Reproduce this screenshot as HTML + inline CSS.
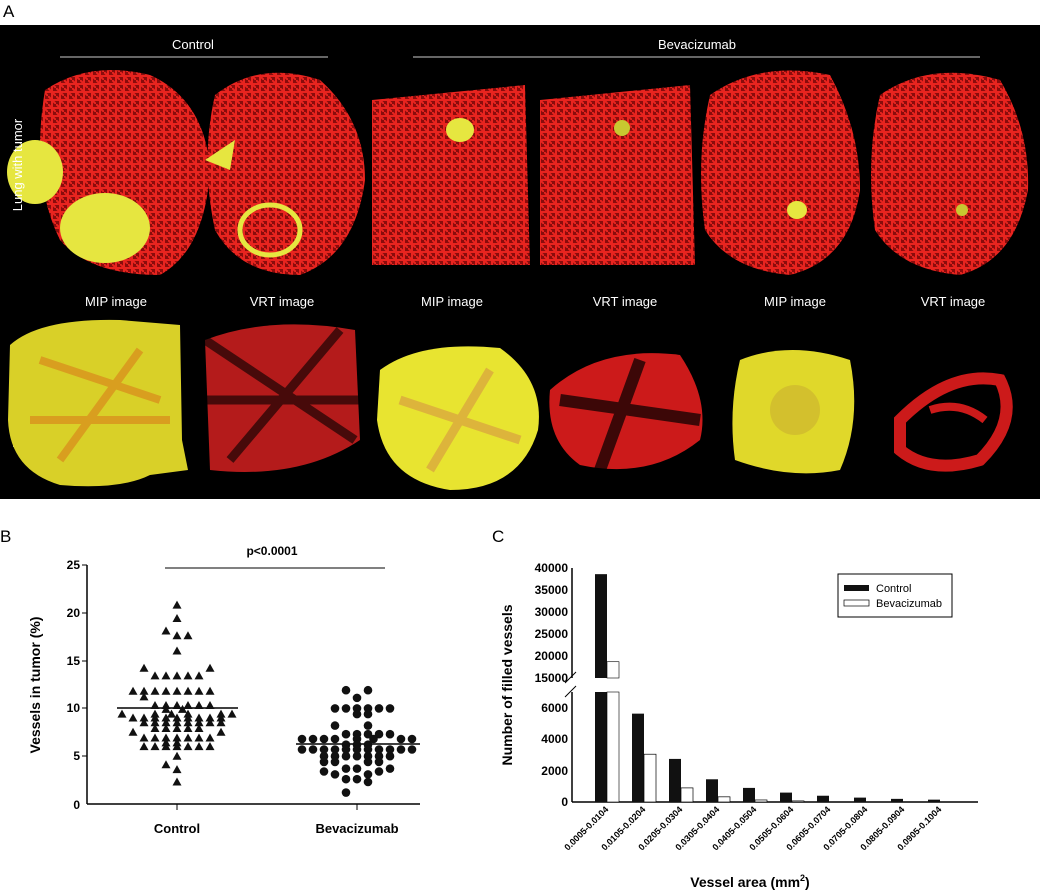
<!DOCTYPE html>
<html><head><style>body{margin:0;background:#fff}svg{display:block}</style></head><body>
<svg width="1040" height="892" viewBox="0 0 1040 892" font-family="Liberation Sans, Arial, sans-serif">
<defs>
<pattern id="ves" width="8" height="8" patternUnits="userSpaceOnUse">
<rect width="8" height="8" fill="#8a0c0c"/>
<path d="M0 4h8M4 0v8M0 0l8 8" stroke="#e8241f" stroke-width="2"/>
</pattern>
</defs>
<text x="3" y="17" font-size="17">A</text>
<rect x="0" y="25" width="1040" height="474" fill="#000"/>
<text x="193" y="49" font-size="13" fill="#fff" text-anchor="middle">Control</text>
<line x1="60" y1="57" x2="328" y2="57" stroke="#ccc"/>
<text x="697" y="49" font-size="13" fill="#fff" text-anchor="middle">Bevacizumab</text>
<line x1="413" y1="57" x2="980" y2="57" stroke="#ccc"/>
<!-- lungs -->
<path d="M45 90 Q90 60 150 75 Q205 100 210 170 Q205 250 160 275 Q90 275 60 240 Q30 180 45 90Z" fill="url(#ves)"/>
<ellipse cx="35" cy="172" rx="28" ry="32" fill="#e6e640"/>
<ellipse cx="105" cy="228" rx="45" ry="35" fill="#e6e640"/>
<path d="M215 95 Q260 60 320 80 Q365 120 365 180 Q355 255 300 275 Q240 275 215 230 Q200 160 215 95Z" fill="url(#ves)"/>
<ellipse cx="270" cy="230" rx="30" ry="25" fill="none" stroke="#e6e640" stroke-width="5"/>
<path d="M205 160 l30 -20 l-5 30 Z" fill="#e6e640"/>
<path d="M372 100 L525 85 L530 265 L372 265Z" fill="url(#ves)"/>
<ellipse cx="460" cy="130" rx="14" ry="12" fill="#e6e640"/>
<path d="M540 100 L690 85 L695 265 L540 265Z" fill="url(#ves)"/>
<ellipse cx="622" cy="128" rx="8" ry="8" fill="#c8c830"/>
<path d="M710 95 Q760 60 830 75 Q860 130 860 190 Q850 260 790 275 Q730 270 705 230 Q695 160 710 95Z" fill="url(#ves)"/>
<ellipse cx="797" cy="210" rx="10" ry="9" fill="#e6e640"/>
<path d="M880 95 Q930 60 1000 80 Q1030 130 1028 190 Q1015 260 960 275 Q900 270 875 230 Q865 160 880 95Z" fill="url(#ves)"/>
<ellipse cx="962" cy="210" rx="6" ry="6" fill="#c8c830"/>
<text transform="translate(22,165) rotate(-90)" font-size="13" fill="#fff" text-anchor="middle">Lung with tumor</text>
<text transform="translate(22,405) rotate(-90)" font-size="13" fill="#fff" text-anchor="middle">Tumor/vessels</text>
<g fill="#fff" font-size="13" text-anchor="middle">
<text x="116" y="306">MIP image</text><text x="282" y="306">VRT image</text>
<text x="452" y="306">MIP image</text><text x="625" y="306">VRT image</text>
<text x="795" y="306">MIP image</text><text x="953" y="306">VRT image</text></g>
<!-- tumors -->
<path d="M10 345 Q40 318 120 320 L180 325 L182 440 L188 470 L150 475 Q120 490 60 485 Q10 470 8 420Z" fill="#d9d028"/>
<path d="M40 360 L160 400 M60 460 L140 350 M30 420 L170 420" stroke="#d98a1c" stroke-width="8" opacity=".7"/>
<path d="M205 340 Q270 315 355 330 L360 440 Q300 480 210 470 Z" fill="#d42020" opacity=".85"/>
<path d="M205 340 L355 440 M230 460 L340 330 M200 400 L360 400" stroke="#000" stroke-width="9" opacity=".6"/>
<path d="M380 370 Q420 340 500 348 Q545 380 538 430 Q520 490 450 490 Q385 480 377 420Z" fill="#e8e430"/>
<path d="M400 400 L520 440 M430 470 L490 370" stroke="#d9a040" stroke-width="9" opacity=".7"/>
<path d="M550 390 Q600 345 680 355 Q710 400 700 440 Q650 480 580 465 Q545 440 550 390Z" fill="#cc1a1a"/>
<path d="M560 400 L700 420 M600 470 L640 360" stroke="#000" stroke-width="12" opacity=".7"/>
<path d="M740 360 Q790 340 850 360 Q862 420 840 470 Q790 480 735 460 Q728 410 740 360Z" fill="#e0d82a"/>
<circle cx="795" cy="410" r="25" fill="#c9b030" opacity=".6"/>
<path d="M900 420 Q950 370 1000 380 Q1020 420 980 460 Q930 475 900 450Z" fill="none" stroke="#cc1a1a" stroke-width="12"/>
<path d="M930 410 Q960 400 985 420" fill="none" stroke="#cc1a1a" stroke-width="8"/>
<!-- Panel B -->
<text x="0" y="542" font-size="17">B</text>
<g font-size="12" font-weight="bold" text-anchor="end">
<line x1="87" y1="565" x2="87" y2="804" stroke="#000" stroke-width="1.5"/>
<line x1="87" y1="804" x2="420" y2="804" stroke="#000" stroke-width="1.5"/>
<text x="80" y="569">25</text><text x="80" y="617">20</text><text x="80" y="665">15</text><text x="80" y="712">10</text><text x="80" y="760">5</text><text x="80" y="809">0</text>
<line x1="82" y1="565" x2="87" y2="565" stroke="#000"/><line x1="82" y1="613" x2="87" y2="613" stroke="#000"/><line x1="82" y1="661" x2="87" y2="661" stroke="#000"/><line x1="82" y1="708" x2="87" y2="708" stroke="#000"/><line x1="82" y1="756" x2="87" y2="756" stroke="#000"/>
<line x1="177" y1="804" x2="177" y2="810" stroke="#000"/><line x1="357" y1="804" x2="357" y2="810" stroke="#000"/>
</g>
<text transform="translate(40,685) rotate(-90)" font-size="14" font-weight="bold" text-anchor="middle">Vessels in tumor (%)</text>
<text x="177" y="833" font-size="13" font-weight="bold" text-anchor="middle">Control</text>
<text x="357" y="833" font-size="13" font-weight="bold" text-anchor="middle">Bevacizumab</text>
<line x1="165" y1="568" x2="385" y2="568" stroke="#000"/>
<text x="272" y="555" font-size="12" font-weight="bold" text-anchor="middle">p&lt;0.0001</text>
<line x1="117" y1="708" x2="238" y2="708" stroke="#000" stroke-width="1.5"/>
<line x1="296" y1="744" x2="420" y2="744" stroke="#000" stroke-width="1.5"/>
<g id="pts"></g>
<!-- Panel C -->
<text x="492" y="542" font-size="17">C</text>
<g stroke="#000" stroke-width="1.5" fill="none">
<line x1="572" y1="568" x2="572" y2="678"/><line x1="572" y1="692" x2="572" y2="802"/>
<line x1="572" y1="802" x2="978" y2="802"/>
<line x1="565" y1="683" x2="576" y2="672" stroke-width="1"/><line x1="565" y1="697" x2="576" y2="686" stroke-width="1"/>
</g>
<g font-size="12" font-weight="bold" text-anchor="end" id="cy"></g>
<g id="bars"></g>
<rect x="838" y="574" width="114" height="43" fill="#fff" stroke="#000"/>
<rect x="844" y="585" width="25" height="6" fill="#111"/>
<rect x="844" y="600" width="25" height="6" fill="#fff" stroke="#000" stroke-width=".7"/>
<text x="876" y="592" font-size="11">Control</text><text x="876" y="607" font-size="11">Bevacizumab</text>
<text transform="translate(512,685) rotate(-90)" font-size="14" font-weight="bold" text-anchor="middle">Number of filled vessels</text>
<text x="750" y="887" font-size="14" font-weight="bold" text-anchor="middle">Vessel area (mm<tspan font-size="9" dy="-6">2</tspan><tspan dy="6">)</tspan></text>
</svg>
<script>
var NS="http://www.w3.org/2000/svg";function el(p,t,a,txt){var e=document.createElementNS(NS,t);for(var k in a)e.setAttribute(k,a[k]);if(txt)e.textContent=txt;document.getElementById(p).appendChild(e);}
var Y=function(v){return 804-v*9.56};
var cr=[[20.8,[0]],[19.4,[0]],[18.1,[-1]],[17.6,[0,1]],[16,[0]],[14.2,[-3,3]],[13.4,[-2,-1,0,1,2]],[11.8,[-4,-3,-2,-1,0,1,2,3]],[11.2,[-3]],[10.3,[-2,-1,0,1,2,3]],[9.9,[-1,0.5]],[9.4,[-5,-2,-0.5,1,4,5]],[9,[-4,-3,-2,-1,0,1,2,3,4]],[8.5,[-3,-2,-1,0,1,2,3,4]],[7.9,[-2,-1,0,1,2]],[7.5,[-4,4]],[6.9,[-3,-2,-1,0,1,2,3]],[6.4,[-1,0]],[6,[-3,-2,-1,0,1,2,3]],[5,[0]],[4.1,[-1]],[3.6,[0]],[2.3,[0]]];
cr.forEach(function(r){r[1].forEach(function(o){var x=177+o*11;var y=Y(r[0]);el("pts","path",{d:"M"+x+" "+(y-4.5)+"L"+(x+4.5)+" "+(y+3.5)+"L"+(x-4.5)+" "+(y+3.5)+"Z",fill:"#111"});});});
var br=[[11.9,[-1,1]],[11.1,[0]],[10,[-2,-1,0,1,2,3]],[9.4,[0,1]],[8.2,[-2,1]],[7.3,[-1,0,1,2,3]],[6.8,[-5,-4,-3,-2,0,1.5,4,5]],[6.2,[-1,0,1]],[5.7,[-5,-4,-3,-2,-1,0,1,2,3,4,5]],[5,[-3,-2,-1,0,1,2,3]],[4.4,[-3,-2,1,2]],[3.7,[-1,0,3]],[3.4,[-3,2]],[3.1,[-2,1]],[2.6,[-1,0]],[2.3,[1]],[1.2,[-1]]];
br.forEach(function(r){r[1].forEach(function(o){el("pts","circle",{cx:357+o*11,cy:Y(r[0]),r:4.3,fill:"#111"});});});
[[40000,568],[35000,590],[30000,612],[25000,634],[20000,656],[15000,678],[6000,708],[4000,739],[2000,771],[0,802]].forEach(function(t){el("cy","text",{x:568,y:t[1]+4},String(t[0]));});
function cyv(v){if(v<=6000)return 802-v/6000*94;return 678-(v-15000)/25000*110;}
var c=[38600,6900,2750,1450,900,600,400,280,200,150],b=[18700,3050,900,330,130,70,0,0,0,0];
var labs=["0.0005-0.0104","0.0105-0.0204","0.0205-0.0304","0.0305-0.0404","0.0405-0.0504","0.0505-0.0604","0.0605-0.0704","0.0705-0.0804","0.0805-0.0904","0.0905-0.1004"];
for(var i=0;i<10;i++){var x=595+i*37;
 if(i==0){el("bars","rect",{x:x,y:cyv(38600),width:12,height:678-cyv(38600),fill:"#111"});el("bars","rect",{x:x,y:692,width:12,height:110,fill:"#111"});
 el("bars","rect",{x:x+12,y:cyv(18700),width:12,height:678-cyv(18700),fill:"#fff",stroke:"#000","stroke-width":.6});el("bars","rect",{x:x+12,y:692,width:12,height:110,fill:"#fff",stroke:"#000","stroke-width":.6});}
 else{el("bars","rect",{x:x,y:cyv(c[i]),width:12,height:802-cyv(c[i]),fill:"#111"});if(b[i])el("bars","rect",{x:x+12,y:cyv(b[i]),width:12,height:802-cyv(b[i]),fill:"#fff",stroke:"#000","stroke-width":.7});}
 el("bars","text",{transform:"translate("+(x+14)+",810) rotate(-45)","font-size":"9","font-weight":"bold","text-anchor":"end"},labs[i]);}
</script>
</body></html>
